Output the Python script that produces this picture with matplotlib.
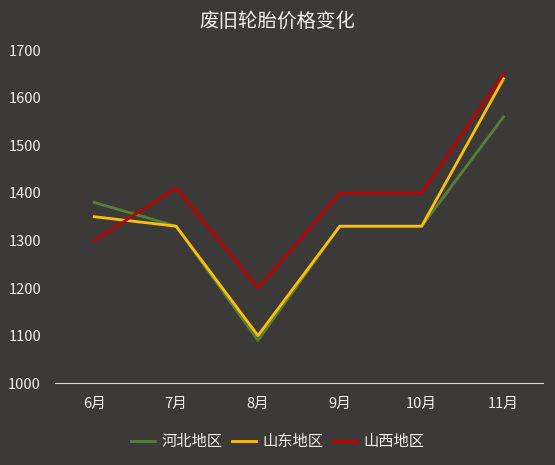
import matplotlib
matplotlib.use("Agg")
import matplotlib.pyplot as plt

plt.rcParams['font.family'] = ['Noto Sans CJK SC', 'DejaVu Sans']

months = ['6月', '7月', '8月', '9月', '10月', '11月']
hebei = [1380, 1330, 1090, 1330, 1330, 1560]
shandong = [1350, 1330, 1100, 1330, 1330, 1640]
shanxi = [1300, 1410, 1200, 1400, 1400, 1650]

bg = '#3b3a38'
fig = plt.figure(figsize=(5.55, 4.65), dpi=100, facecolor=bg)
ax = fig.add_axes([0.099, 0.176, 0.879, 0.716], facecolor=bg)

x = range(len(months))
ax.plot(x, hebei, color='#548235', lw=2, label='河北地区')
ax.plot(x, shandong, color='#ffc000', lw=2, label='山东地区')
ax.plot(x, shanxi, color='#c00000', lw=2, label='山西地区')

ax.set_xlim(-0.48, 5.48)
ax.set_ylim(1000, 1700)
ax.set_yticks(range(1000, 1701, 100))
ax.set_xticks(list(x))
ax.set_xticklabels(months)
for s in ['top', 'right', 'left']:
    ax.spines[s].set_visible(False)
ax.spines['bottom'].set_color('#d9d9d9')
ax.tick_params(length=0, colors='#f2f2f2', labelsize=10.5)
ax.tick_params(axis='x', pad=10)
ax.tick_params(axis='y', pad=10)

fig.text(0.5, 0.955, '废旧轮胎价格变化', ha='center', va='center', color='#f2f2f2', fontsize=14)
leg = fig.legend(loc='center', bbox_to_anchor=(0.5, 0.05), ncol=3, frameon=False,
                 fontsize=11, handlelength=1.6, handletextpad=0.4, columnspacing=0.6)
for t in leg.get_texts():
    t.set_color('#f2f2f2')

fig.savefig('out.png', dpi=100, facecolor=bg)
